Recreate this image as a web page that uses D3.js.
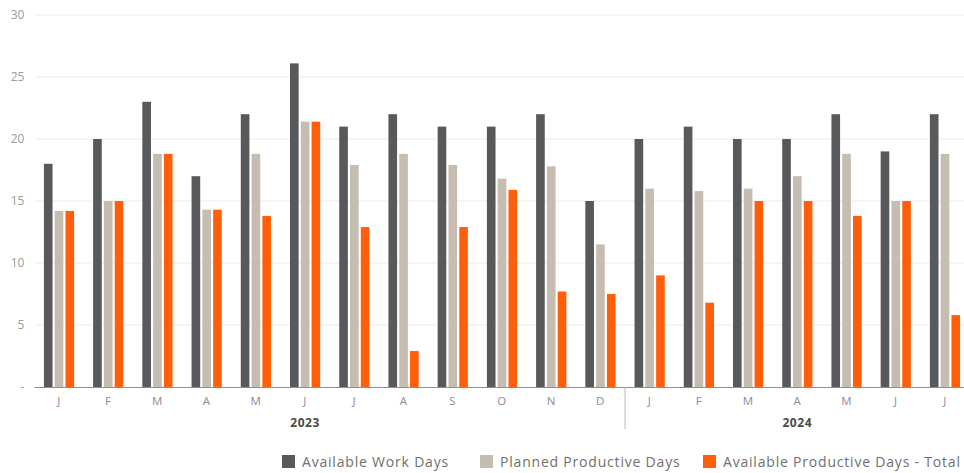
<!DOCTYPE html>
<html>
<head>
<meta charset="utf-8">
<script src="https://cdn.jsdelivr.net/npm/d3@7"></script>
<style>
  html, body { margin: 0; padding: 0; background: #fff; }
  svg { display: block; font-family: "Open Sans", "Lato", sans-serif; }
</style>
</head>
<body>
<svg id="chart" width="964" height="473"></svg>
<script>
// Monthly work-day figures, Jan 2023 – Jul 2024
const months = ["J","F","M","A","M","J","J","A","S","O","N","D","J","F","M","A","M","J","J"];
const years = [
  { label: "2023", count: 12 },
  { label: "2024", count: 7 }
];
const seriesNames = ["Available Work Days", "Planned Productive Days", "Available Productive Days - Total"];
const availableWorkDays = [18, 20, 23, 17, 22, 26.1, 21, 22, 21, 21, 22, 15, 20, 21, 20, 20, 22, 19, 22];
const plannedProductiveDays = [14.2, 15, 18.8, 14.3, 18.8, 21.4, 17.9, 18.8, 17.9, 16.8, 17.8, 11.5, 16, 15.8, 16, 17, 18.8, 15, 18.8];
const availableProductiveTotal = [14.2, 15, 18.8, 14.3, 13.8, 21.4, 12.9, 2.9, 12.9, 15.9, 7.7, 7.5, 9, 6.8, 15, 15, 13.8, 15, 5.8];
const yTicks = [0, 5, 10, 15, 20, 25, 30];
const colors = ["#58595b", "#c6bcb0", "#ff5f0a"];

const svg = d3.select("#chart");
const margin = { left: 34.4, right: -5.6, top: 15, bottom: 86 };
const width = 964, height = 473;

const rows = months.map((m, i) => ({
  i, month: m,
  values: [availableWorkDays[i], plannedProductiveDays[i], availableProductiveTotal[i]]
}));

const x0 = d3.scaleBand()
  .domain(d3.range(months.length))
  .range([margin.left, width - margin.right]);
const x1 = d3.scaleBand()
  .domain([0, 1, 2])
  .range([0, x0.bandwidth()])
  .paddingInner(0.2)
  .paddingOuter(0.88);
const y = d3.scaleLinear()
  .domain([0, 30])
  .range([height - margin.bottom, margin.top]);

// grid lines
svg.append("g")
  .selectAll("line")
  .data(yTicks.filter(t => t > 0))
  .join("line")
  .attr("x1", margin.left)
  .attr("x2", width)
  .attr("y1", d => y(d))
  .attr("y2", d => y(d))
  .attr("stroke", "#ebebeb")
  .attr("stroke-width", 1);

// y axis labels
const yAxis = d3.axisLeft(y)
  .tickValues(yTicks)
  .tickSize(0)
  .tickPadding(8)
  .tickFormat(d => d === 0 ? "-" : d);
svg.append("g")
  .attr("transform", `translate(${margin.left - 2},0)`)
  .call(yAxis)
  .call(g => g.select(".domain").remove())
  .call(g => g.selectAll("text")
    .attr("fill", "#9a9a9a")
    .style("font-size", "12px")
    .style("font-family", "'Open Sans', sans-serif"));

// bars
const groups = svg.append("g")
  .selectAll("g")
  .data(rows)
  .join("g")
  .attr("transform", d => `translate(${x0(d.i)},0)`);
groups.selectAll("rect")
  .data(d => d.values.map((v, k) => ({ k, v })))
  .join("rect")
  .attr("x", d => x1(d.k))
  .attr("width", x1.bandwidth())
  .attr("y", d => y(d.v))
  .attr("height", d => y(0) - y(d.v))
  .attr("fill", d => colors[d.k]);

// baseline
svg.append("line")
  .attr("x1", margin.left)
  .attr("x2", width)
  .attr("y1", y(0) + 0.5)
  .attr("y2", y(0) + 0.5)
  .attr("stroke", "#8a8f96")
  .attr("stroke-width", 1);

// month labels
const xAxis = d3.axisBottom(x0)
  .tickSize(0)
  .tickPadding(10)
  .tickFormat(i => months[i]);
svg.append("g")
  .attr("transform", `translate(0,${y(0)})`)
  .call(xAxis)
  .call(g => g.select(".domain").remove())
  .call(g => g.selectAll("text")
    .attr("fill", "#8c8c8c")
    .style("font-size", "11.5px")
    .style("letter-spacing", "0.5px")
    .style("font-family", "'Open Sans', sans-serif"));

// year labels and separators
let start = 0;
years.forEach((yr, j) => {
  const mid = start + Math.floor((yr.count - 1) / 2);
  svg.append("text")
    .attr("x", x0(mid) + x0.bandwidth() / 2)
    .attr("y", y(0) + 40)
    .attr("text-anchor", "middle")
    .attr("fill", "#4a4a4a")
    .style("font-size", "12px")
    .style("font-weight", "700")
    .style("letter-spacing", "0.6px")
    .text(yr.label);
  if (j > 0) {
    svg.append("line")
      .attr("x1", x0(start))
      .attr("x2", x0(start))
      .attr("y1", y(0))
      .attr("y2", y(0) + 42)
      .attr("stroke", "#b8b8b8")
      .attr("stroke-width", 1);
  }
  start += yr.count;
});

// legend
const legendX = [282, 480, 703];
const legend = svg.append("g")
  .selectAll("g")
  .data(seriesNames)
  .join("g")
  .attr("transform", (d, k) => `translate(${legendX[k]},455)`);
legend.append("rect")
  .attr("width", 13)
  .attr("height", 13)
  .attr("fill", (d, k) => colors[k]);
legend.append("text")
  .attr("x", 20)
  .attr("y", 11.5)
  .attr("fill", "#6f6f6f")
  .style("font-size", "14px")
  .style("letter-spacing", "0.8px")
  .text(d => d);
</script>
</body>
</html>
